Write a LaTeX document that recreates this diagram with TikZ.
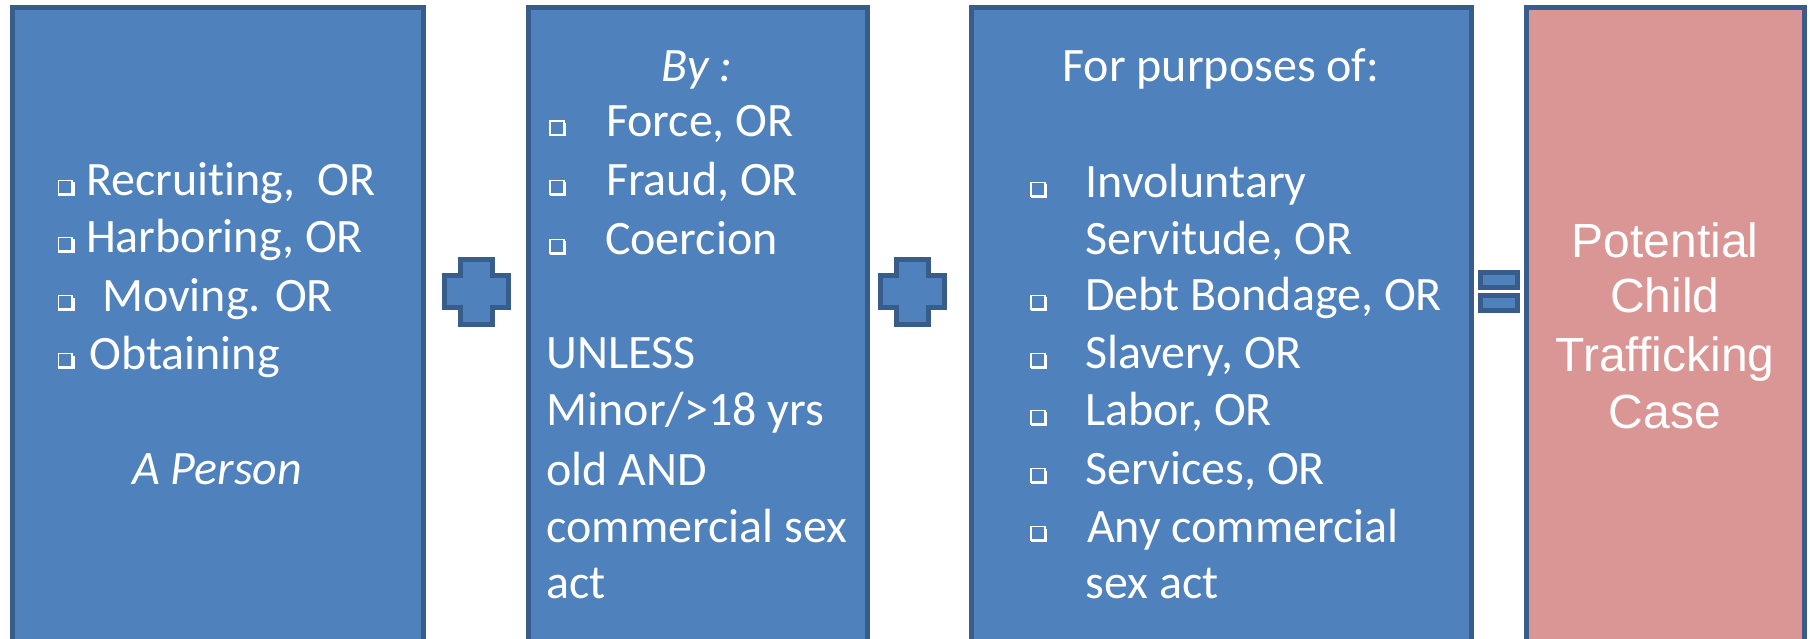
\documentclass[tikz,border=0pt]{standalone}
\usepackage{fontspec}
\setmainfont[Ligatures={NoCommon,NoContextual,NoRare},Contextuals={NoAlternate}]{Carlito}
\newfontfamily\arialf[Ligatures={NoCommon}]{Liberation Sans}
\definecolor{boxfill}{HTML}{4F81BD}
\definecolor{boxline}{HTML}{385D8A}
\definecolor{pinkfill}{HTML}{D99694}
\newcommand\bul[2]{%
  \draw[white,line width=1.4] ({#1+0.7},{#2-15.3}) rectangle ({#1+14.5},{#2-1.5});
  \fill[white] ({#1+0.5},{#2-2.8}) rectangle ({#1+17},{#2});
  \fill[white] ({#1+14},{#2-13.5}) rectangle ({#1+17},{#2});}
\newcommand\plusshape[1]{%
  \draw[symb] ({#1-16},259.5) -- ({#1+16},259.5) -- ({#1+16},275.5) -- ({#1+32},275.5) -- ({#1+32},307.5) -- ({#1+16},307.5) -- ({#1+16},324.5) -- ({#1-16},324.5) -- ({#1-16},307.5) -- ({#1-32},307.5) -- ({#1-32},275.5) -- ({#1-16},275.5) -- cycle;}
\begin{document}
\begin{tikzpicture}[x=1pt,y=-1pt,
  box/.style={draw=boxline,fill=boxfill,line width=5pt,rectangle,inner sep=0pt,outer sep=0pt,minimum height=692.5pt},
  symb/.style={draw=boxline,fill=boxfill,line width=5pt},
  txt/.style={text=white,inner sep=0pt,outer sep=0pt,anchor=base west,font=\fontsize{48}{57}\selectfont},
  ctxt/.style={txt,anchor=base},
  atxt/.style={text=white,inner sep=0pt,outer sep=0pt,anchor=base,font=\arialf\fontsize{48}{57}\selectfont}]
\useasboundingbox (0,0) rectangle (1810,639);
\clip (0,0) rectangle (1810,639);
\fill[white] (0,0) rectangle (1810,639);
% boxes
\node[box,minimum width=411pt] (b1) at (218,353.75) {};
\node[box,minimum width=339pt] (b2) at (698,353.75) {};
\node[box,minimum width=500pt] (b3) at (1221.5,353.75) {};
\node[box,fill=pinkfill,minimum width=278pt] (b4) at (1665.5,353.75) {};
% operators
\plusshape{476.5}
\plusshape{912.5}
\draw[symb] (1480.5,272.5) rectangle (1517.5,287.5);
\draw[symb] (1480.5,295.5) rectangle (1517.5,310.5);
% box 1
\bul{57.5}{196}\node[txt] (t11) at (86,196) {Recrui\kern0pt ting,\ \ OR};
\bul{57.5}{253}\node[txt] (t12) at (86,253) {Harboring, OR};
\bul{57.5}{311}\node[txt] (t13) at (102,311) {Moving. OR};
\bul{57.5}{369}\node[txt] (t14) at (89.5,369) {Obtai\kern0pt ning};
\node[ctxt,font=\fontsize{48}{57}\selectfont\itshape] (t15) at (217,484) {A Person};
% box 2
\node[ctxt,font=\fontsize{48}{57}\selectfont\itshape] (t20) at (697,81.5) {By :};
\bul{549.3}{136.5}\node[txt] (t21) at (606,136.5) {Force, OR};
\bul{549.3}{195.6}\node[txt] (t22) at (606,195.6) {Fraud, OR};
\bul{549.3}{254.7}\node[txt] (t23) at (605,254.7) {Coercion};
\node[txt] (t24) at (546.5,368.8) {UNLESS};
\node[txt] (t25) at (546.5,425.8) {Minor/>18 yrs};
\node[txt] (t26) at (546.5,485) {old AND};
\node[txt] (t27) at (546.5,542) {commercial sex};
\node[txt] (t28) at (546.5,598) {act};
% box 3
\node[ctxt] (t30) at (1221,81.5) {For purposes of:};
\bul{1030.3}{197.6}\node[txt] (t31) at (1085.5,197.6) {Involuntary};
\node[txt] (t32) at (1085.5,254.7) {Servitude, OR};
\bul{1030.3}{310.5}\node[txt] (t33) at (1085,310.5) {Debt Bondage, OR};
\bul{1030.3}{368.8}\node[txt] (t34) at (1085.5,368.8) {Slavery, OR};
\bul{1030.3}{425.8}\node[txt] (t35) at (1085,425.8) {Labor, OR};
\bul{1030.3}{484}\node[txt] (t36) at (1085.5,484) {Services, OR};
\bul{1030.3}{542}\node[txt] (t37) at (1087,542) {Any commercial};
\node[txt] (t38) at (1085.5,598) {sex act};
% box 4
\node[atxt] (t41) at (1665,257.5) {Potential};
\node[atxt] (t42) at (1665,312) {Child};
\node[atxt] (t43) at (1665,371.5) {Trafficking};
\node[atxt] (t44) at (1665,428) {Case};
\end{tikzpicture}
\end{document}
